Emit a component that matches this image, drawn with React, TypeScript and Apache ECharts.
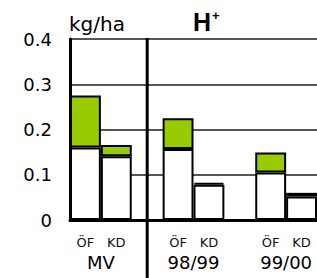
import React, { useEffect, useRef } from "react";
import * as echarts from "echarts";

const categories = ["ÖF", "KD", "", "ÖF", "KD", "", "ÖF", "KD"];
const groups = ["MV", "98/99", "99/00"];
const baseValues = [0.16, 0.141, null, 0.157, 0.078, null, 0.105, 0.052];
const topValues = [0.115, 0.025, null, 0.068, 0.004, null, 0.044, 0.008];
const yMin = 0;
const yMax = 0.4;
const yInterval = 0.1;
const unitLabel = "kg/ha";

export default function App() {
  const ref = useRef<HTMLDivElement>(null);
  useEffect(() => {
    document.body.style.margin = "0";
    if (!ref.current) return;
    const chart = echarts.init(ref.current, undefined, { renderer: "svg" });
    const groupPos = groups.map((_, i) => 3 * i + 1);
    const option: any = {
      animation: false,
      textStyle: { fontFamily: "DejaVu Sans", color: "#000" },
      grid: { left: 70, top: 39, width: 250, bottom: 58 },
      xAxis: [
        {
          type: "category",
          data: categories,
          axisLine: { show: true, lineStyle: { color: "#000", width: 3 } },
          axisTick: { show: false },
          axisLabel: {
            interval: 0,
            fontSize: 13,
            lineHeight: 13,
            margin: 16,
            color: "#111",
            fontFamily: "DejaVu Sans",
          },
          splitLine: { show: false },
          z: 5,
        },
        {
          type: "value",
          position: "bottom",
          min: 0,
          max: categories.length,
          axisLine: { show: false },
          axisTick: { show: false },
          splitLine: { show: false },
          axisLabel: {
            customValues: groupPos,
            formatter: (v: number) => {
              const idx = groupPos.indexOf(Math.round(v));
              return idx >= 0 ? groups[idx] : "";
            },
            fontSize: 18,
            lineHeight: 18,
            margin: 33,
            color: "#000",
            fontFamily: "DejaVu Sans",
          },
        },
      ],
      yAxis: {
        type: "value",
        min: yMin,
        max: yMax,
        interval: yInterval,
        name: unitLabel,
        nameLocation: "end",
        nameGap: 5,
        nameTextStyle: {
          align: "left",
          verticalAlign: "bottom",
          fontSize: 20,
          lineHeight: 20,
          color: "#000",
          fontFamily: "DejaVu Sans",
          padding: [0, 0, 0, -1],
        },
        axisLine: { show: true, lineStyle: { color: "#000", width: 3 } },
        axisTick: { show: false },
        axisLabel: {
          fontSize: 18,
          margin: 18,
          color: "#000",
          fontFamily: "DejaVu Sans",
        },
        splitLine: {
          show: true,
          lineStyle: { color: "#555555", width: 1.8, type: "solid" },
        },
      },
      series: [
        {
          type: "bar",
          stack: "s",
          data: baseValues,
          barCategoryGap: "0%",
          itemStyle: { color: "#ffffff", borderColor: "#000", borderWidth: 2 },
        },
        {
          type: "bar",
          stack: "s",
          data: topValues,
          barCategoryGap: "0%",
          itemStyle: { color: "#99cc00", borderColor: "#000", borderWidth: 2 },
        },
      ],
    };
    chart.setOption(option);
    const dx = chart.convertToPixel({ xAxisIndex: 1 } as any, 2.5) as number;
    const dyTop = chart.convertToPixel({ yAxisIndex: 0 } as any, yMax) as number;
    chart.setOption({
      graphic: [
        {
          type: "text",
          left: 193,
          top: 9,
          style: {
            text: "H",
            fontSize: 25,
            fontWeight: "bold",
            fontFamily: "Liberation Sans",
            fill: "#000",
          },
        },
        {
          type: "text",
          left: 212,
          top: 9,
          style: {
            text: "+",
            fontSize: 13,
            fontWeight: "bold",
            fontFamily: "Liberation Sans",
            fill: "#000",
          },
        },
        {
          type: "line",
          z: 100,
          shape: { x1: dx, y1: dyTop - 1, x2: dx, y2: 278 },
          style: { stroke: "#000", lineWidth: 3 },
        },
      ],
    });
    return () => chart.dispose();
  }, []);
  return <div ref={ref} style={{ width: 317, height: 278 }} />;
}
